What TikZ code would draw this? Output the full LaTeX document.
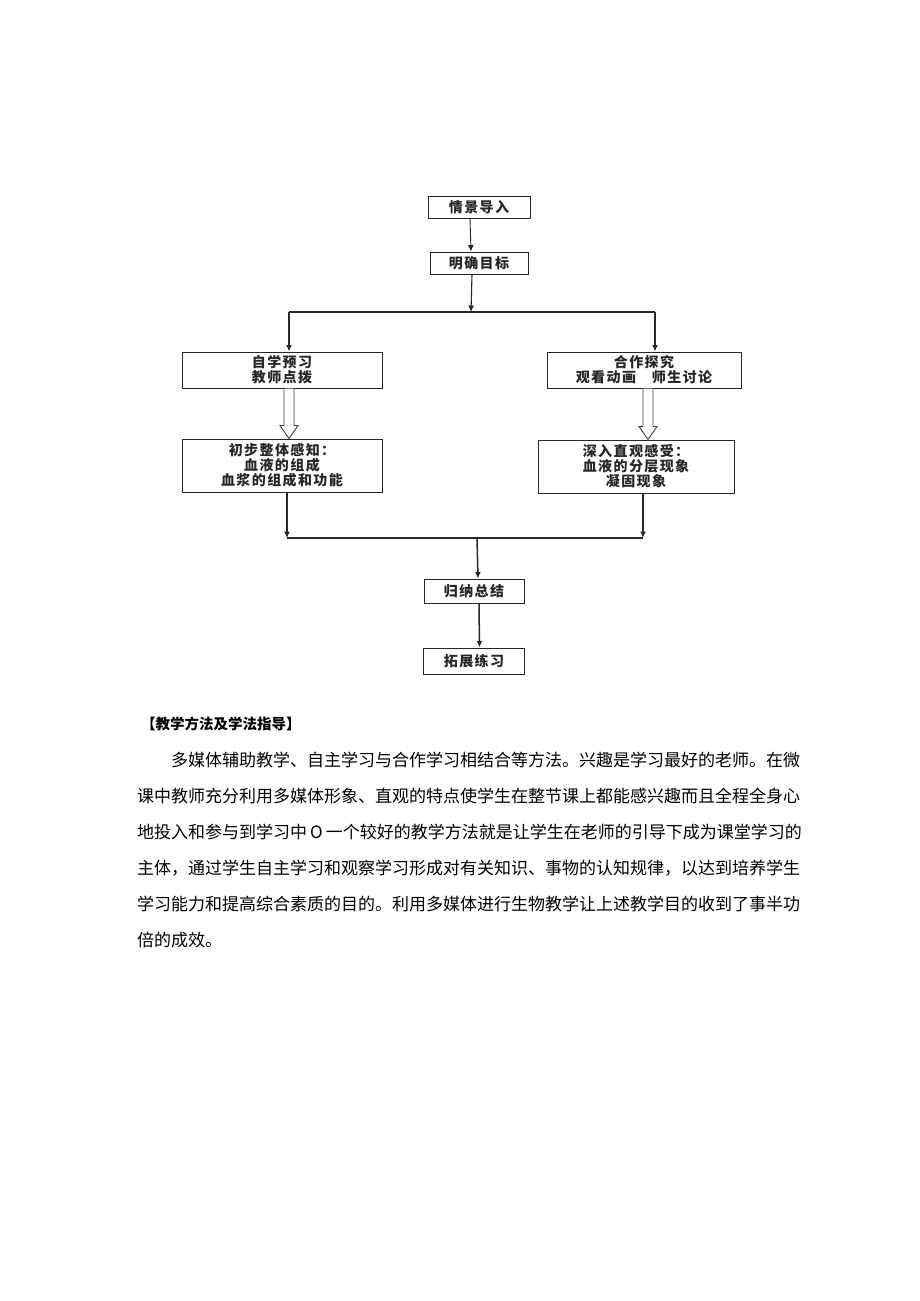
\documentclass[tikz,border=0pt]{standalone}
\usepackage{fontspec}
\newfontfamily\cjk{Noto Sans CJK SC}
\newfontfamily\cjkbox{Noto Sans CJK SC}[LetterSpace=10]
\usepackage{tikz}
\usetikzlibrary{positioning,arrows.meta}
\tikzset{
  box/.style={draw=black!85, line width=1pt, inner sep=0pt, align=center,
    text=black!85, font=\cjkbox\bfseries\fontsize{14}{15}\selectfont},
  trunk/.style={line width=1.5pt, black!85},
  flow/.style={-{Latex[length=6.5pt,width=6pt]}, line width=1.5pt, black!85},
  hollow/.style={draw=black!75, line width=0.9pt, fill=white, line join=miter},
  para/.style={anchor=west, inner sep=0pt, font=\cjk\fontsize{17}{17}\selectfont}
}

\begin{document}
\begin{tikzpicture}[x=1pt,y=-1pt]
    \useasboundingbox (0,0) rectangle (920,1301);

    \node(intro) [box, minimum width=102pt, minimum height=22pt] at (479,207) {情景导入};
    \node(goal) [box, minimum width=98pt, minimum height=22pt, below=33pt of intro] {明确目标};

    \node(self) [box, minimum width=200pt, minimum height=36pt] at (282,370) {自学预习\\教师点拨};
    \node(coop) [box, minimum width=194pt, minimum height=36pt] at (644,370) {合作探究\\观看动画\hspace{16pt}师生讨论};

    \node(sense) [box, minimum width=200pt, minimum height=53pt, below=50pt of self] {初步整体感知：\\血液的组成\\血浆的组成和功能};
    \node(deep) [box, minimum width=196pt, minimum height=53pt, below=51pt of coop, xshift=-8pt] {深入直观感受：\\血液的分层现象\\凝固现象};

    \node(sum) [box, minimum width=100pt, minimum height=24pt] at (474,591) {归纳总结};
    \node(ext) [box, minimum width=101pt, minimum height=26pt, below=44pt of sum] {拓展练习};

    \coordinate (split) at (471,312);
    \coordinate (splitl) at (289,312);
    \coordinate (splitr) at (655,312);
    \coordinate (join) at (477,538);
    \coordinate (joinl) at (287,538);
    \coordinate (joinr) at (643,538);

    \draw[flow, line width=0.9pt]([xshift=-9pt]intro.south) -- ([xshift=-8pt]goal.north);
    \draw[flow, line width=1.1pt]([xshift=-7pt]goal.south) -- (split);
    \draw[trunk](splitl) -- (splitr);
    \draw[flow](splitl) -- ([xshift=7pt]self.north);
    \draw[flow](splitr) -- ([xshift=11pt]coop.north);

    \draw[hollow]([xshift=2pt]self.south) -- ++(0,-37pt) -- ++(-4pt,0) -- ([xshift=7pt]sense.north)
        -- ++(9pt,13pt) -- ++(-4pt,0) -- ++(0,37pt);
    \draw[hollow]([xshift=-1pt]coop.south) -- ++(0,-38pt) -- ++(-4pt,0) -- ([xshift=12pt]deep.north)
        -- ++(9pt,13pt) -- ++(-4pt,0) -- ++(0,38pt);

    \draw[flow]([xshift=5pt]sense.south) -- (joinl);
    \draw[flow]([xshift=7pt]deep.south) -- (joinr);
    \draw[trunk](joinl) -- (joinr);
    \draw[flow](join) -- ([xshift=4pt]sum.north);
    \draw[flow]([xshift=5pt]sum.south) -- ([xshift=5.5pt]ext.north);

    \node(head) [para, font=\cjk\bfseries\fontsize{14.5}{14.5}\selectfont] at (141,724) {【教学方法及学法指导】};
    \node(p1) [para] at (171,760) {多媒体辅助教学、自主学习与合作学习相结合等方法。兴趣是学习最好的老师。在微};
    \node(p2) [para] at (137,796) {课中教师充分利用多媒体形象、直观的特点使学生在整节课上都能感兴趣而且全程全身心};
    \node(p3) [para] at (137,832) {地投入和参与到学习中\kern3pt O\kern3pt 一个较好的教学方法就是让学生在老师的引导下成为课堂学习的};
    \node(p4) [para] at (137,868) {主体，通过学生自主学习和观察学习形成对有关知识、事物的认知规律，以达到培养学生};
    \node(p5) [para] at (137,904) {学习能力和提高综合素质的目的。利用多媒体进行生物教学让上述教学目的收到了事半功};
    \node(p6) [para] at (137,940) {倍的成效。};
\end{tikzpicture}
\end{document}
